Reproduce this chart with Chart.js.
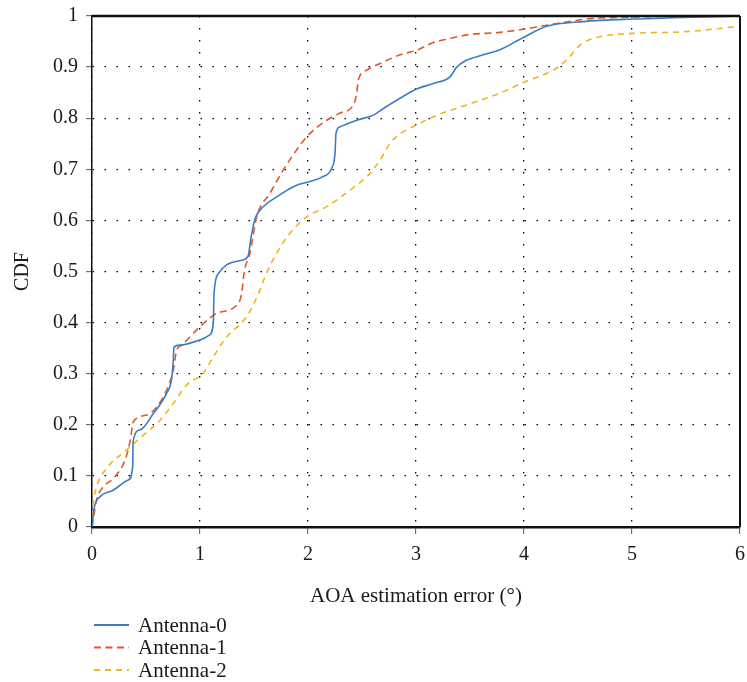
<!DOCTYPE html>
<html>
<head>
<meta charset="utf-8">
<script src="https://cdn.jsdelivr.net/npm/chart.js@4.4.1/dist/chart.umd.min.js"></script>
<style>
  html, body { margin: 0; padding: 0; background: #fff; }
  #wrap { width: 747px; height: 682px; }
</style>
</head>
<body>
<div id="wrap"><canvas id="c" width="747" height="682"></canvas></div>
<script>
// values
const xTicks = [0, 1, 2, 3, 4, 5, 6];
const yTicks = [0, 0.1, 0.2, 0.3, 0.4, 0.5, 0.6, 0.7, 0.8, 0.9, 1];

const antenna0X = [0, 0.02, 0.074, 0.196, 0.336, 0.377, 0.38, 0.444, 0.568, 0.691, 0.738, 0.753, 0.759, 0.815, 1.0, 1.09, 1.123, 1.13, 1.17, 1.247, 1.386, 1.447, 1.469, 1.509, 1.556, 1.71, 1.895, 2.019, 2.142, 2.219, 2.25, 2.259, 2.296, 2.451, 2.605, 2.698, 2.852, 3.006, 3.16, 3.315, 3.377, 3.454, 3.623, 3.778, 3.994, 4.21, 4.549, 5.01, 6];
const antenna0Y = [0, 0.037, 0.059, 0.072, 0.092, 0.118, 0.167, 0.19, 0.222, 0.262, 0.291, 0.327, 0.352, 0.356, 0.366, 0.376, 0.399, 0.457, 0.496, 0.513, 0.522, 0.531, 0.562, 0.603, 0.62, 0.646, 0.669, 0.676, 0.686, 0.702, 0.731, 0.77, 0.783, 0.796, 0.806, 0.819, 0.839, 0.857, 0.868, 0.881, 0.9, 0.912, 0.924, 0.934, 0.958, 0.98, 0.989, 0.994, 1.0];

const antenna1X = [0, 0.043, 0.105, 0.198, 0.306, 0.352, 0.383, 0.506, 0.599, 0.691, 0.753, 0.784, 0.83, 1.0, 1.154, 1.355, 1.386, 1.41, 1.463, 1.525, 1.648, 1.772, 1.895, 2.003, 2.173, 2.296, 2.42, 2.451, 2.466, 2.543, 2.667, 2.852, 3.006, 3.16, 3.315, 3.469, 3.778, 3.994, 4.21, 4.7, 6];
const antenna1Y = [0, 0.053, 0.079, 0.095, 0.131, 0.167, 0.206, 0.219, 0.235, 0.268, 0.307, 0.346, 0.356, 0.392, 0.418, 0.438, 0.457, 0.5, 0.536, 0.607, 0.653, 0.699, 0.738, 0.767, 0.796, 0.81, 0.826, 0.849, 0.875, 0.894, 0.907, 0.924, 0.933, 0.948, 0.956, 0.963, 0.968, 0.974, 0.982, 0.996, 1.0];

const antenna2X = [0, 0.01, 0.043, 0.136, 0.321, 0.444, 0.63, 0.753, 0.877, 1.03, 1.123, 1.247, 1.432, 1.556, 1.602, 1.71, 1.833, 1.988, 2.173, 2.389, 2.574, 2.667, 2.759, 2.852, 3.006, 3.16, 3.469, 3.778, 3.994, 4.27, 4.395, 4.519, 4.642, 5.01, 5.475, 6];
const antenna2Y = [0.02, 0.045, 0.079, 0.115, 0.151, 0.174, 0.209, 0.242, 0.278, 0.301, 0.333, 0.372, 0.412, 0.464, 0.49, 0.536, 0.575, 0.607, 0.627, 0.659, 0.692, 0.718, 0.751, 0.769, 0.787, 0.803, 0.826, 0.849, 0.87, 0.894, 0.914, 0.943, 0.956, 0.966, 0.969, 0.98];

const seriesNames = ['Antenna-0', 'Antenna-1', 'Antenna-2'];

const FONT = '"Liberation Serif", "DejaVu Serif", serif';

function pts(xs, ys) {
    return xs.map((x, i) => ({ x: x, y: ys[i] }));
}

function line(label, xs, ys, color, dash) {
    return {
        label: label,
        data: pts(xs, ys),
        borderColor: color,
        backgroundColor: color,
        borderWidth: 1.6,
        borderDash: dash,
        showLine: true,
        pointRadius: 0,
        cubicInterpolationMode: 'monotone',
        fill: false
    };
}

// box frame on top/right
const framePlugin = {
    id: 'frame',
    afterDraw(chart) {
        const { ctx, chartArea: a } = chart;
        ctx.save();
        ctx.strokeStyle = '#111';
        ctx.lineWidth = 2.5;
        ctx.beginPath();
        ctx.moveTo(a.left, a.top);
        ctx.lineTo(a.right, a.top);
        ctx.stroke();
        ctx.lineWidth = 2;
        ctx.beginPath();
        ctx.moveTo(a.right, a.top);
        ctx.lineTo(a.right, a.bottom);
        ctx.stroke();
        ctx.restore();
    }
};

// vertical legend under the axis title
const legendPlugin = {
    id: 'vlegend',
    afterDraw(chart) {
        const { ctx } = chart;
        ctx.save();
        ctx.font = '21px ' + FONT;
        ctx.textBaseline = 'middle';
        ctx.fillStyle = '#1a1a1a';
        chart.data.datasets.forEach((ds, i) => {
            const y = 625 + i * 22.5;
            ctx.strokeStyle = ds.borderColor;
            ctx.lineWidth = 1.8;
            ctx.setLineDash(ds.borderDash || []);
            ctx.beginPath();
            ctx.moveTo(94, y);
            ctx.lineTo(129, y);
            ctx.stroke();
            ctx.setLineDash([]);
            ctx.fillText(ds.label, 138, y + 1);
        });
        ctx.restore();
    }
};

new Chart(document.getElementById('c'), {
    type: 'scatter',
    data: {
        datasets: [
            line(seriesNames[0], antenna0X, antenna0Y, '#3b7cc4', []),
            line(seriesNames[1], antenna1X, antenna1Y, '#e0592b', [7, 4.5]),
            line(seriesNames[2], antenna2X, antenna2Y, '#f2b41c', [6, 5])
        ]
    },
    options: {
        responsive: false,
        animation: false,
        layout: { padding: { left: 0, right: 7, top: 16, bottom: 70 } },
        plugins: {
            legend: { display: false },
            tooltip: { enabled: false }
        },
        scales: {
            x: {
                type: 'linear',
                min: 0,
                max: 6,
                afterBuildTicks(scale) {
                    scale.ticks = xTicks.map(v => ({ value: v }));
                },
                afterFit(scale) {
                    scale.height = 85;
                    scale.paddingLeft = 0;
                    scale.paddingRight = 0;
                },
                ticks: {
                    color: '#1a1a1a',
                    font: { family: FONT, size: 20 },
                    padding: 9
                },
                grid: {
                    color: '#000',
                    lineWidth: 1.3,
                    drawTicks: true,
                    tickLength: 7,
                    tickColor: '#555',
                    tickWidth: 1,
                    tickBorderDash: []
                },
                border: { display: true, color: '#111', width: 2.5, dash: [1.5, 10.5] },
                title: {
                    display: true,
                    text: 'AOA estimation error (°)',
                    color: '#1a1a1a',
                    font: { family: FONT, size: 21 },
                    padding: { top: 0, bottom: 3 }
                }
            },
            y: {
                type: 'linear',
                min: 0,
                max: 1,
                afterBuildTicks(scale) {
                    scale.ticks = yTicks.map(v => ({ value: v }));
                },
                afterFit(scale) {
                    scale.width = 92;
                    scale.paddingTop = 0;
                    scale.paddingBottom = 0;
                },
                ticks: {
                    color: '#1a1a1a',
                    font: { family: FONT, size: 20 },
                    padding: 8,
                    callback: v => String(v)
                },
                grid: {
                    color: '#000',
                    lineWidth: 1.3,
                    drawTicks: true,
                    tickLength: 6,
                    tickColor: '#555',
                    tickWidth: 1,
                    tickBorderDash: []
                },
                border: { display: true, color: '#111', width: 1.5, dash: [1.5, 10.5] },
                title: {
                    display: true,
                    text: 'CDF',
                    color: '#1a1a1a',
                    font: { family: FONT, size: 20 },
                    padding: { top: 11, bottom: 8 }
                }
            }
        }
    },
    plugins: [framePlugin, legendPlugin]
});
</script>
</body>
</html>
